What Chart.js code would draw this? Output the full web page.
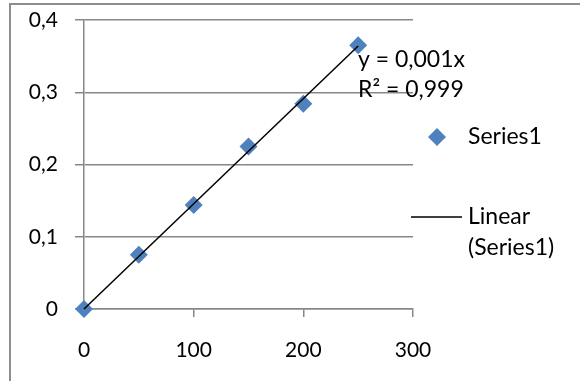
<!DOCTYPE html>
<html>
<head>
<meta charset="utf-8">
<script src="https://cdn.jsdelivr.net/npm/chart.js@4.4.1/dist/chart.umd.min.js"></script>
<style>
  body { margin: 0; background: #fff; }
  #wrap { position: absolute; left: 0; top: 0; width: 580px; height: 381px; }
</style>
</head>
<body>
<div id="wrap"><canvas id="chart" width="580" height="381"></canvas></div>
<script>
// data
const xValues = [0, 50, 100, 150, 200, 250];
const yValues = [0, 0.075, 0.144, 0.225, 0.284, 0.365];
const trendX = [0, 250];
const trendY = [0, 0.364];
const xTickValues = [0, 100, 200, 300];
const xTickLabels = ["0", "100", "200", "300"];
const yTickValues = [0, 0.1, 0.2, 0.3, 0.4];
const yTickLabels = ["0", "0,1", "0,2", "0,3", "0,4"];
const seriesName = "Series1";
const trendName = ["Linear", "(Series1)"];
const eqLines = ["y = 0,001x", "R² = 0,999"];

const gridColor = "#878787";
const pointColor = "#4F81BD";
const fontFam = "Lato, 'Open Sans', sans-serif";

// frame + legend + equation label
const extras = {
  id: "extras",
  beforeDraw(chart) {
    const ctx = chart.ctx;
    ctx.save();
    ctx.fillStyle = "#fff";
    ctx.fillRect(0, 0, chart.width, chart.height);
    ctx.strokeStyle = "#8e8e8e";
    ctx.lineWidth = 2;
    ctx.beginPath();
    ctx.moveTo(10, 381);
    ctx.lineTo(10, 4);
    ctx.lineTo(580, 4);
    ctx.stroke();
    ctx.restore();
  },
  afterDraw(chart) {
    const ctx = chart.ctx;
    ctx.save();
    ctx.fillStyle = "#000";
    ctx.textBaseline = "middle";
    ctx.font = "23px " + fontFam;
    // equation
    ctx.fillText(eqLines[0], 358, 60);
    ctx.fillText(eqLines[1], 358, 90);
    // legend: series marker
    ctx.fillStyle = pointColor;
    ctx.beginPath();
    ctx.moveTo(437, 128); ctx.lineTo(446, 137); ctx.lineTo(437, 146); ctx.lineTo(428, 137);
    ctx.closePath();
    ctx.fill();
    ctx.fillStyle = "#000";
    ctx.fillText(seriesName, 468, 137);
    // legend: trendline
    ctx.strokeStyle = "#000";
    ctx.lineWidth = 1.5;
    ctx.beginPath();
    ctx.moveTo(411, 217);
    ctx.lineTo(462, 217);
    ctx.stroke();
    ctx.fillText(trendName[0], 468, 217);
    ctx.fillText(trendName[1], 468, 248);
    ctx.restore();
  }
};

const noPad = s => {
  s.paddingTop = 0; s.paddingBottom = 0; s.paddingLeft = 0; s.paddingRight = 0;
};

new Chart(document.getElementById("chart"), {
  type: "scatter",
  data: {
    datasets: [
      {
        label: trendName.join(" "),
        data: trendX.map((x, i) => ({x: x, y: trendY[i]})),
        showLine: true,
        borderColor: "#000",
        borderWidth: 1.5,
        pointRadius: 0,
        clip: false,
        order: 0
      },
      {
        label: seriesName,
        data: xValues.map((x, i) => ({x: x, y: yValues[i]})),
        pointStyle: "rectRot",
        pointRadius: 9,
        pointBackgroundColor: pointColor,
        pointBorderColor: pointColor,
        pointBorderWidth: 0,
        clip: false,
        order: 1
      }
    ]
  },
  options: {
    responsive: false,
    animation: false,
    layout: { padding: { left: 0, right: 167, top: 20, bottom: 0 } },
    plugins: { legend: { display: false }, tooltip: { enabled: false } },
    scales: {
      x: {
        type: "linear",
        min: 0,
        max: 300,
        afterBuildTicks: s => { s.ticks = xTickValues.map(v => ({value: v})); },
        afterFit: s => { s.height = 72; noPad(s); },
        grid: { drawOnChartArea: false, drawTicks: true, tickLength: 8, color: gridColor, lineWidth: 1.5 },
        border: { color: gridColor, width: 1.5 },
        ticks: {
          padding: 21,
          color: "#000",
          font: { family: fontFam, size: 21 },
          maxRotation: 0,
          callback: (v, i) => xTickLabels[i]
        }
      },
      y: {
        type: "linear",
        min: 0,
        max: 0.4,
        afterBuildTicks: s => { s.ticks = yTickValues.map(v => ({value: v})); },
        afterFit: s => { s.width = 84; noPad(s); },
        grid: { drawTicks: true, tickLength: 9, color: gridColor, lineWidth: 1.5 },
        border: { color: gridColor, width: 1.5 },
        ticks: {
          padding: 17,
          color: "#000",
          font: { family: fontFam, size: 21 },
          callback: (v, i) => yTickLabels[i]
        }
      }
    }
  },
  plugins: [extras]
});
</script>
</body>
</html>
